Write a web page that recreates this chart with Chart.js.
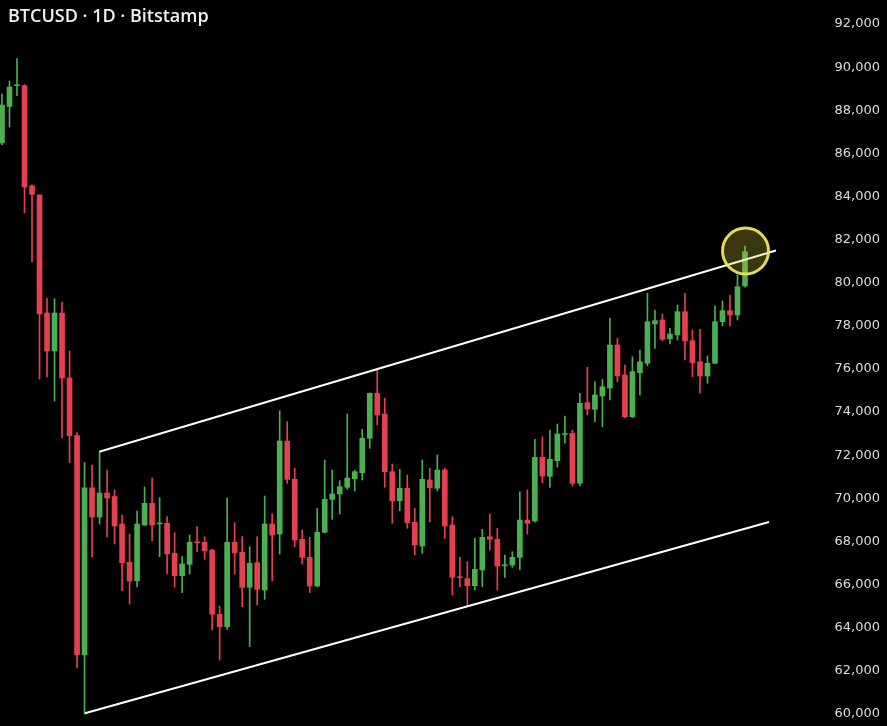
<!DOCTYPE html>
<html>
<head>
<meta charset="utf-8">
<script src="https://cdn.jsdelivr.net/npm/chart.js@4/dist/chart.umd.min.js"></script>
<style>
  html, body { margin: 0; padding: 0; background: #000; }
  #wrap { position: relative; width: 887px; height: 726px; background: #000; }
  #title { position: absolute; left: 8px; top: 3px; color: #f0f0f0; font: 600 18px "Open Sans", "DejaVu Sans", sans-serif; white-space: nowrap; }
</style>
</head>
<body>
<div id="wrap">
  <canvas id="c" width="887" height="726"></canvas>
  <div id="title">BTCUSD · 1D · Bitstamp</div>
</div>
<script>
// ---- data (daily candles, oldest first) ----
const open = [86390,88081,89046,89046,84408,83977,78504,76742,78504,75490,
72819,62643,70398,69044,70157,69994,68719,66942,66090,68672,
69678,68720,68750,67358,66322,66850,67890,67870,67510,64531,
63957,67870,67404,65783,66924,65658,68719,68255,72568,70792,
68007,67172,65844,68334,69864,70111,70421,70820,71100,72693,
74780,73821,71145,69800,70375,68797,67698,70760,70375,71223,
68672,66260,66186,65858,66586,68130,68007,66780,66817,67172,
68904,68858,71812,70930,71655,72870,72924,70607,74347,74038,
74657,75025,77020,75629,73695,75736,76172,78000,78180,77313,
77484,78565,77220,76246,75582,76172,78101,78611,78412,79757];
const high = [88660,89264,90298,89100,84450,84000,79168,79168,79014,76742,
72960,71566,71455,72058,71223,70296,69136,68255,69321,70435,
70853,69938,69058,68316,67203,68208,68595,68130,67540,64917,
69938,68781,68130,67667,68130,70018,69182,73973,73463,71300,
68440,68100,69446,71687,71223,70727,73821,71223,73110,74800,
75893,74548,71502,71255,70992,69446,71687,71300,71919,71300,
69058,67172,66972,68054,68473,69182,68519,67281,67435,70216,
70296,72647,72768,73078,73357,73727,73078,74780,75986,75318,
75429,78258,77331,76093,76477,76788,79418,78643,78457,77795,
78875,79418,77716,77748,76510,78829,79061,79339,80267,81611];
const low = [86300,87130,88582,83142,80883,75443,75536,74423,72707,71566,
62040,59900,67189,68719,68116,67791,65625,65009,65797,68650,
67943,67203,66400,65783,65533,66400,67435,67081,63803,62412,
63833,66400,64885,63029,64962,65226,66090,67327,70607,67667,
66864,65533,65800,68300,68937,69182,70330,70250,70760,72230,
73310,70421,68751,69335,68519,67281,67359,68828,70250,68054,
65426,65812,64917,65658,65812,67513,65658,66247,66710,66586,
68250,68800,70634,70421,71347,72462,70482,70482,73774,73463,
73231,74470,75318,73650,73650,74703,76046,76867,77220,77067,
77252,76324,75550,74781,75244,76150,77902,77902,78180,79700];
const close = [88150,88985,89080,84348,84009,78458,76742,78504,75490,72819,
62643,70398,69044,70157,69925,68626,66924,66075,68719,69678,
68672,68760,67327,66322,66864,67870,67850,67481,64531,63957,
67870,67389,65783,66896,65690,68719,68208,72568,70792,67976,
67172,65844,68334,69864,70111,70451,70853,71145,72693,74780,
73774,71145,69800,70375,68781,67745,70792,70405,71223,68626,
66247,66230,65858,66618,68100,68007,66771,66820,67172,68904,
68750,71812,70945,71720,72893,72910,70607,74316,74052,74703,
75087,77020,75582,73695,75782,76246,78101,78150,77285,77530,
78565,77220,76200,75582,76172,78101,78611,78412,79724,81347];

// channel lines (candle index, price)
const channelTopX = [12.96, 103.13];
const channelTopY = [72072, 81403];
const channelBottomX = [11.06, 102.2];
const channelBottomY = [59946, 68811];

// highlighted breakout point
const markerX = [99.07];
const markerY = [81380];

// price axis tick labels
const yTicks = [60000,62000,64000,66000,68000,70000,72000,74000,76000,78000,80000,82000,84000,86000,88000,90000,92000];

// ---- build ----
const UP = '#4caf50', DOWN = '#e5404f';
const idx = open.map((_, i) => i);
const colors = idx.map(i => close[i] >= open[i] ? UP : DOWN);

const wickData = idx.map(i => ({ x: i, y: [low[i], high[i]] }));
const bodyData = idx.map(i => ({ x: i, y: [open[i], close[i]] }));
const topLine = channelTopX.map((x, k) => ({ x, y: channelTopY[k] }));
const botLine = channelBottomX.map((x, k) => ({ x, y: channelBottomY[k] }));
const marker = markerX.map((x, k) => ({ x, y: markerY[k] }));

new Chart(document.getElementById('c'), {
  data: {
    datasets: [
      { type: 'bar', data: wickData, backgroundColor: colors, barThickness: 1, grouped: false, order: 3 },
      { type: 'bar', data: bodyData, backgroundColor: colors, barThickness: 5, grouped: false, minBarLength: 1, order: 2 },
      { type: 'line', data: topLine, borderColor: '#ffffff', borderWidth: 2, pointRadius: 0, order: 1 },
      { type: 'line', data: botLine, borderColor: '#ffffff', borderWidth: 2, pointRadius: 0, order: 1 },
      { type: 'scatter', data: marker, pointRadius: 23, pointBorderWidth: 3, clip: false,
        pointBorderColor: 'rgba(236,230,90,0.95)', pointBackgroundColor: 'rgba(215,200,60,0.27)', order: 0 }
    ]
  },
  options: {
    responsive: false,
    animation: false,
    events: [],
    layout: { autoPadding: false, padding: { left: 0, right: 7, top: 0, bottom: 0 } },
    plugins: { legend: { display: false }, tooltip: { enabled: false }, title: { display: false } },
    scales: {
      x: { type: 'linear', min: -0.2665, max: 109.66, display: false, offset: false },
      y: {
        position: 'right',
        min: 59350.7, max: 93020.3,
        grid: { display: false },
        border: { display: false },
        afterBuildTicks: s => { s.ticks = yTicks.map(v => ({ value: v })); },
        afterFit: s => { s.width = 55; s.paddingTop = 0; s.paddingBottom = 0; },
        ticks: {
          crossAlign: 'far',
          labelOffset: 2,
          color: '#dcdcdc',
          font: { family: '"DejaVu Sans", Verdana, sans-serif', size: 13 },
          callback: v => Number(v).toLocaleString('en-US')
        }
      }
    }
  }
});
</script>
</body>
</html>
